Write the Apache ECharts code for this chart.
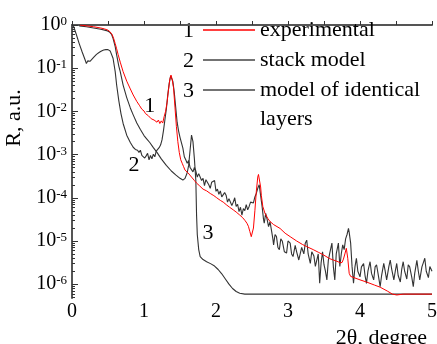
<!DOCTYPE html>
<html>
<head>
<meta charset="utf-8">
<script src="https://cdn.jsdelivr.net/npm/echarts@6/dist/echarts.min.js"></script>
<style>html,body{margin:0;padding:0;background:#fff}#c{width:437px;height:344px}</style>
</head>
<body>
<div id="c"></div>
<script>
// x: 2θ in degrees; y values are log10(R)
var xTickLabels = ['0', '1', '2', '3', '4', '5'];
var yDecades = [-6, -5, -4, -3, -2, -1, 0];
var seriesNames = ['experimental', 'stack model', 'model of identical layers'];

var expX = [0.11,0.2,0.3,0.4,0.45,0.5,0.53,0.56,0.58,0.6,0.62,0.64,0.67,0.71,0.76,0.81,0.85,0.9,0.94,0.97,1.0,1.02,1.04,1.06,1.08,1.1,1.12,1.14,1.16,1.18,1.2,1.22,1.24,1.26,1.28,1.3,1.32,1.34,1.36,1.375,1.39,1.41,1.43,1.45,1.47,1.49,1.51,1.53,1.55,1.57,1.59,1.61,1.63,1.66,1.7,1.73,1.77,1.82,1.87,1.92,1.97,2.01,2.06,2.1,2.15,2.19,2.24,2.28,2.33,2.37,2.4,2.43,2.45,2.47,2.49,2.5,2.52,2.54,2.56,2.58,2.59,2.6,2.62,2.63,2.65,2.68,2.72,2.75,2.8,2.89,2.96,3.03,3.12,3.2,3.26,3.35,3.42,3.49,3.58,3.63,3.68,3.72,3.75,3.77,3.79,3.81,3.83,3.85,3.87,4.0,4.09,4.2,4.28,4.38,4.45,4.51,4.6,5.0];
var expLogR = [0.0,-0.02,-0.04,-0.07,-0.09,-0.12,-0.16,-0.23,-0.32,-0.43,-0.55,-0.68,-0.86,-1.08,-1.3,-1.48,-1.62,-1.77,-1.87,-1.95,-1.99,-2.05,-2.04,-2.1,-2.12,-2.17,-2.14,-2.2,-2.18,-2.25,-2.2,-2.28,-2.22,-2.27,-2.12,-2.0,-1.8,-1.5,-1.25,-1.16,-1.25,-1.45,-1.9,-2.35,-2.7,-2.95,-3.12,-3.2,-3.28,-3.36,-3.33,-3.42,-3.45,-3.52,-3.6,-3.66,-3.72,-3.8,-3.84,-3.9,-3.95,-4.0,-4.06,-4.1,-4.17,-4.22,-4.28,-4.33,-4.4,-4.46,-4.52,-4.59,-4.66,-4.78,-4.9,-4.94,-4.7,-4.3,-3.85,-3.52,-3.46,-3.48,-3.75,-3.95,-4.2,-4.36,-4.48,-4.55,-4.62,-4.71,-4.82,-4.9,-5.0,-5.08,-5.13,-5.2,-5.26,-5.32,-5.41,-5.44,-5.47,-5.5,-5.5,-5.42,-5.3,-5.17,-5.4,-5.75,-5.82,-5.9,-5.95,-6.02,-6.07,-6.16,-6.23,-6.25,-6.23,-6.23];

var stackX = [0.02,0.06,0.1,0.14,0.18,0.2,0.21,0.22,0.23,0.25,0.27,0.3,0.34,0.38,0.41,0.44,0.46,0.47,0.5,0.53,0.55,0.57,0.6,0.62,0.65,0.68,0.71,0.76,0.81,0.85,0.88,0.91,0.93,0.95,0.97,0.99,1.01,1.03,1.05,1.07,1.09,1.11,1.13,1.15,1.17,1.19,1.21,1.23,1.25,1.27,1.29,1.31,1.33,1.35,1.37,1.38,1.4,1.42,1.44,1.46,1.48,1.5,1.52,1.54,1.56,1.58,1.6,1.62,1.64,1.66,1.68,1.7,1.72,1.74,1.76,1.78,1.8,1.82,1.84,1.86,1.88,1.9,1.92,1.94,1.96,1.98,2.0,2.02,2.04,2.06,2.08,2.1,2.12,2.14,2.16,2.18,2.2,2.22,2.24,2.26,2.28,2.3,2.32,2.34,2.36,2.38,2.4,2.42,2.44,2.46,2.48,2.5,2.52,2.54,2.56,2.58,2.6,2.62,2.64,2.66,2.67,2.69,2.71,2.73,2.75,2.77,2.79,2.8,2.82,2.84,2.86,2.88,2.9,2.92,2.95,2.98,3.0,3.03,3.05,3.07,3.1,3.12,3.15,3.17,3.19,3.22,3.24,3.26,3.28,3.31,3.33,3.36,3.38,3.4,3.42,3.44,3.46,3.48,3.5,3.52,3.54,3.56,3.58,3.61,3.63,3.65,3.67,3.7,3.72,3.74,3.76,3.78,3.8,3.82,3.84,3.85,3.87,3.89,3.91,3.93,3.95,3.97,4.0,4.02,4.05,4.07,4.09,4.11,4.14,4.16,4.19,4.21,4.23,4.26,4.28,4.3,4.33,4.35,4.37,4.4,4.42,4.44,4.47,4.49,4.51,4.53,4.56,4.58,4.6,4.62,4.65,4.67,4.69,4.72,4.74,4.76,4.79,4.81,4.83,4.86,4.88,4.9,4.92,4.95,4.97,5.0];
var stackLogR = [-0.02,-0.22,-0.43,-0.62,-0.8,-0.89,-0.85,-0.83,-0.86,-0.84,-0.8,-0.75,-0.68,-0.63,-0.6,-0.58,-0.59,-0.57,-0.57,-0.6,-0.64,-0.77,-1.08,-1.39,-1.75,-2.05,-2.28,-2.55,-2.72,-2.83,-2.88,-2.9,
  -2.95,-2.9,-3.02,-2.98,-3.08,-3.03,-2.97,-3.12,-3.02,-3.1,-2.99,-3.05,-2.92,-2.96,-2.84,-2.78,
  -2.66,-2.45,-2.2,-1.95,-1.62,-1.35,-1.18,-1.16,-1.3,-1.55,-1.9,-2.25,-2.45,-2.6,-2.62,
  -2.85,-3.05,-3.12,-3.2,-3.14,-3.3,-3.27,-3.4,-3.3,-3.38,-3.52,-3.44,-3.47,-3.6,-3.55,-3.72,-3.58,-3.62,-3.7,-3.78,-3.64,-3.68,-3.6,-3.85,-3.8,-3.92,-3.84,-3.98,-4.0,-3.88,-3.94,-4.1,-4.02,-4.05,-4.18,-4.1,-4.0,-4.2,-4.15,-4.32,-4.22,-4.4,-4.25,-4.3,-4.16,-4.28,-4.2,-4.1,-4.14,-4.12,
  -3.98,-3.9,-3.78,-3.7,-3.95,-4.2,-4.5,-4.59,-4.36,-4.5,-4.67,-4.55,-4.75,-4.95,-5.09,-4.85,-4.9,-5.15,-5.2,-4.95,-5.0,-5.25,-5.28,-5.0,-5.05,-5.3,-5.36,-5.1,-5.25,-5.44,-5.44,-5.15,-5.3,-5.05,-4.98,-5.3,-5.52,-5.25,-5.35,-5.59,-5.59,-5.3,-5.98,-5.5,-5.25,-5.55,-5.7,-5.9,-5.45,-5.28,-5.05,-5.6,-5.9,-5.3,-5.05,-5.59,-5.3,-5.09,-5.2,-4.95,-4.85,-4.71,-4.8,-5.05,-5.6,-5.98,-5.6,-5.4,-5.7,-5.83,-5.6,-5.52,-5.8,-5.98,-5.7,-5.48,-5.75,-5.9,-5.6,-5.55,-5.85,-6.06,-5.8,-5.52,-5.7,-5.9,-5.6,-5.44,-5.65,-5.9,-5.7,-5.52,-5.8,-5.95,-5.65,-5.48,-5.7,-5.88,-5.55,-5.6,-5.85,-6.06,-5.75,-5.45,-5.7,-5.9,-5.6,-5.5,-5.4,-5.7,-5.85,-5.59,-5.7];

var identX = [0.1,0.2,0.3,0.4,0.48,0.52,0.55,0.57,0.6,0.62,0.65,0.67,0.71,0.76,0.81,0.85,0.9,0.95,1.0,1.04,1.08,1.13,1.18,1.24,1.31,1.38,1.44,1.5,1.54,1.57,1.6,1.62,1.64,1.66,1.68,1.7,1.72,1.73,1.74,1.76,1.78,1.82,1.87,1.93,1.98,2.03,2.08,2.13,2.18,2.23,2.28,2.33,2.4,5.0];
var identLogR = [-0.02,-0.04,-0.07,-0.1,-0.13,-0.16,-0.22,-0.31,-0.5,-0.69,-0.95,-1.08,-1.39,-1.68,-1.92,-2.08,-2.27,-2.42,-2.56,-2.64,-2.72,-2.84,-2.95,-3.1,-3.25,-3.38,-3.47,-3.55,-3.59,-3.55,-3.42,-3.25,-2.9,-2.55,-2.7,-3.1,-3.6,-4.4,-4.85,-5.2,-5.36,-5.43,-5.48,-5.53,-5.58,-5.66,-5.76,-5.88,-6.0,-6.1,-6.17,-6.21,-6.23,-6.23];

// curve labels inside the plot: [x, log10 R]
var curveLabelPos = [[1.08, -1.89], [0.86, -3.25], [1.89, -4.83]];

function pairs(xs, ys) { return xs.map(function (x, i) { return [x, ys[i]]; }); }

var FONT = "'Liberation Serif','Times New Roman',serif";
var minorTicks = [];
for (var n = -7; n < 0; n++) {
  for (var k = 2; k <= 9; k++) {
    var v = n + Math.log10(k);
    if (v > -6.32 && v < 0) minorTicks.push(v);
  }
}

function mark(text, pos) {
  return {
    symbol: 'circle', symbolSize: 1, silent: true,
    itemStyle: { color: 'rgba(0,0,0,0)' },
    label: { show: true, position: 'inside', formatter: text, fontSize: 22, fontFamily: FONT, color: '#000' },
    data: [{ coord: pos }]
  };
}

var chart = echarts.init(document.getElementById('c'), null, { renderer: 'canvas' });
chart.setOption({
  animation: false,
  backgroundColor: '#fff',
  grid: { left: 72, right: 5, top: 25, bottom: 46, containLabel: false, outerBoundsMode: 'none' },
  legend: {
    orient: 'vertical', left: 203, top: 19, padding: 0,
    icon: 'rect', itemWidth: 52, itemHeight: 1.3, itemGap: 8,
    data: seriesNames,
    formatter: function (name) { return name === seriesNames[2] ? 'model of identical' : name; },
    textStyle: { fontSize: 22, fontFamily: FONT, color: '#000', lineHeight: 22 }
  },
  xAxis: {
    type: 'value', min: 0, max: 5, interval: 0.5,
    axisLine: { show: true, lineStyle: { color: '#555', width: 2 } },
    axisTick: { show: true, inside: true, length: 4, lineStyle: { color: '#333', width: 1 } },
    axisLabel: {
      margin: 4, fontSize: 20, fontFamily: FONT, color: '#000',
      formatter: function (v) { return Math.abs(v - Math.round(v)) < 1e-9 ? xTickLabels[Math.round(v)] : ''; }
    },
    splitLine: { show: false }
  },
  yAxis: [{
    type: 'value', min: -6.32, max: 0,
    name: 'R, a.u.', nameLocation: 'middle', nameGap: 46, nameRotate: 90,
    nameTextStyle: { fontSize: 22, fontFamily: FONT, color: '#000', padding: [0, 0, 0, 87] },
    axisLine: { show: true, lineStyle: { color: '#555', width: 2 } },
    axisTick: { show: true, inside: true, length: 6, customValues: yDecades, lineStyle: { color: '#333' } },
    axisLabel: {
      margin: 5, customValues: yDecades,
      formatter: function (v) { return '{b|10}{s|' + Math.round(v) + '}'; },
      rich: {
        b: { fontSize: 20, fontFamily: FONT, color: '#000', lineHeight: 20 },
        s: { fontSize: 13, fontFamily: FONT, color: '#000', verticalAlign: 'top', lineHeight: 13 }
      }
    },
    splitLine: { show: false }
  }, {
    type: 'value', min: -6.32, max: 0, position: 'left',
    axisLine: { show: false },
    axisTick: { show: true, inside: true, length: 3, customValues: minorTicks, lineStyle: { color: '#333' } },
    axisLabel: { show: false },
    splitLine: { show: false }
  }],
  series: [{
    name: seriesNames[2], type: 'line', symbol: 'none', z: 2,
    data: pairs(identX, identLogR),
    lineStyle: { color: '#333', width: 1.1 }, itemStyle: { color: '#444' },
    markPoint: mark('3', curveLabelPos[2])
  }, {
    name: seriesNames[1], type: 'line', symbol: 'none', z: 3,
    data: pairs(stackX, stackLogR),
    lineStyle: { color: '#333', width: 1.1 }, itemStyle: { color: '#444' },
    markPoint: mark('2', curveLabelPos[1])
  }, {
    name: seriesNames[0], type: 'line', symbol: 'none', z: 4,
    data: pairs(expX, expLogR),
    lineStyle: { color: '#ff0000', width: 1 }, itemStyle: { color: '#ff0000' },
    markPoint: mark('1', curveLabelPos[0])
  }],
  graphic: [
    { type: 'text', left: 183, top: 20, style: { text: '1', font: '22px ' + FONT, fill: '#000' } },
    { type: 'text', left: 183, top: 50, style: { text: '2', font: '22px ' + FONT, fill: '#000' } },
    { type: 'text', left: 183, top: 80, style: { text: '3', font: '22px ' + FONT, fill: '#000' } },
    { type: 'text', left: 260, top: 108, style: { text: 'layers', font: '22px ' + FONT, fill: '#000' } },
    { type: 'text', right: 10, top: 327, style: { text: '2θ, degree', font: '22px ' + FONT, fill: '#000' } }
  ]
});
</script>
</body>
</html>
